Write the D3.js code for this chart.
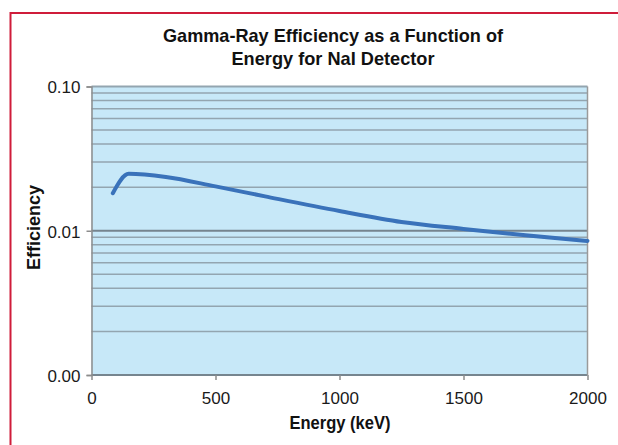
<!DOCTYPE html>
<html>
<head>
<meta charset="utf-8">
<script src="https://cdn.jsdelivr.net/npm/d3@7"></script>
<style>
  html, body { margin: 0; padding: 0; background: #ffffff; }
  svg { display: block; }
</style>
</head>
<body>
<div id="chart"></div>
<script>
(function () {
    "use strict";

    // Values
    const energy = [86, 150, 300, 500, 700, 1000, 1250, 1500, 1750, 2000];
    const efficiency = [0.0182, 0.0248, 0.0236, 0.0203, 0.0173, 0.0137, 0.0115, 0.0103, 0.0093, 0.0085];
    const xTicks = [0, 500, 1000, 1500, 2000];
    const yTicks = [0.001, 0.01, 0.1];
    const titleLines = ["Gamma-Ray Efficiency as a Function of", "Energy for NaI Detector"];

    const width = 618;
    const height = 445;
    const margin = { top: 86.5, right: 30.5, bottom: 70, left: 91.5 };
    const plotW = width - margin.left - margin.right;
    const plotH = height - margin.top - margin.bottom;

    const boldFont = "'Liberation Sans', Arial, sans-serif";
    const tickFont = "'Liberation Sans', Arial, sans-serif";

    const svg = d3.select("#chart")
        .append("svg")
        .attr("width", width)
        .attr("height", height);

    svg.append("rect")
        .attr("width", width)
        .attr("height", height)
        .attr("fill", "#ffffff");

    // red frame (only top and left edges are visible in the picture)
    svg.append("path")
        .attr("d", `M10.5,${height} V13 H${width}`)
        .attr("fill", "none")
        .attr("stroke", "#cf1c3a")
        .attr("stroke-width", 2);

    const x = d3.scaleLinear().domain([0, 2000]).range([0, plotW]);
    const y = d3.scaleLog().domain([0.001, 0.1]).range([plotH, 0]);

    const chart = svg.append("g")
        .attr("transform", `translate(${margin.left},${margin.top})`);

    chart.append("rect")
        .attr("width", plotW)
        .attr("height", plotH)
        .attr("fill", "#c7e8f8");

    // minor gridlines 2..9 of each decade
    const minor = [];
    [0.001, 0.01].forEach((base) => {
        for (let k = 2; k <= 9; k += 1) {
            minor.push(base * k);
        }
    });

    chart.selectAll(".minor")
        .data(minor)
        .join("line")
        .attr("class", "minor")
        .attr("x1", 0)
        .attr("x2", plotW)
        .attr("y1", (d) => y(d))
        .attr("y2", (d) => y(d))
        .attr("stroke", "#93a5b0")
        .attr("stroke-width", 1.5);

    chart.selectAll(".major")
        .data(yTicks)
        .join("line")
        .attr("class", "major")
        .attr("x1", 0)
        .attr("x2", plotW)
        .attr("y1", (d) => y(d))
        .attr("y2", (d) => y(d))
        .attr("stroke", (d) => (d === 0.1 ? "#93a5b0" : "#76858f"))
        .attr("stroke-width", 2);

    // right edge of plot
    chart.append("line")
        .attr("x1", plotW)
        .attr("x2", plotW)
        .attr("y1", 0)
        .attr("y2", plotH)
        .attr("stroke", "#9a9a9a")
        .attr("stroke-width", 1.5);

    const yAxis = d3.axisLeft(y)
        .tickValues(yTicks)
        .tickFormat(d3.format(".2f"))
        .tickSize(5)
        .tickPadding(6);

    chart.append("g")
        .call(yAxis)
        .call((g) => g.select(".domain").attr("stroke", "#8c8c8c").attr("stroke-width", 1.5))
        .call((g) => g.selectAll(".tick line").attr("stroke", "#8c8c8c").attr("stroke-width", 1.5))
        .call((g) => g.selectAll("text")
            .attr("fill", "#1a1a1a")
            .attr("dy", "0.38em")
            .style("font-family", tickFont)
            .style("font-size", "17px"));

    const xAxis = d3.axisBottom(x)
        .tickValues(xTicks)
        .tickFormat(d3.format("d"))
        .tickSize(5)
        .tickPadding(12);

    chart.append("g")
        .attr("transform", `translate(0,${plotH})`)
        .call(xAxis)
        .call((g) => g.select(".domain").remove())
        .call((g) => g.selectAll(".tick line").attr("stroke", "#8c8c8c").attr("stroke-width", 1.5))
        .call((g) => g.selectAll("text")
            .attr("fill", "#1a1a1a")
            .style("font-family", tickFont)
            .style("font-size", "17px"));

    const points = energy.map((e, i) => ({ e, v: efficiency[i] }));

    const line = d3.line()
        .x((d) => x(d.e))
        .y((d) => y(d.v))
        .curve(d3.curveMonotoneX);

    chart.append("path")
        .datum(points)
        .attr("d", line)
        .attr("fill", "none")
        .attr("stroke", "#3a72ba")
        .attr("stroke-width", 4)
        .attr("stroke-linecap", "round")
        .attr("stroke-linejoin", "round");

    // title, squeezed to the condensed look of the original
    const titleWidths = [340, 203];
    svg.selectAll(".title")
        .data(titleLines)
        .join("text")
        .attr("class", "title")
        .attr("x", 333)
        .attr("y", (d, i) => 42 + i * 22.5)
        .attr("text-anchor", "middle")
        .attr("textLength", (d, i) => titleWidths[i])
        .attr("lengthAdjust", "spacingAndGlyphs")
        .style("font-family", boldFont)
        .style("font-weight", "bold")
        .style("font-size", "19px")
        .attr("fill", "#111111")
        .text((d) => d);

    svg.append("text")
        .attr("x", 340)
        .attr("y", 429)
        .attr("text-anchor", "middle")
        .attr("textLength", 101)
        .attr("lengthAdjust", "spacingAndGlyphs")
        .style("font-family", boldFont)
        .style("font-weight", "bold")
        .style("font-size", "18px")
        .attr("fill", "#111111")
        .text("Energy (keV)");

    svg.append("text")
        .attr("transform", "translate(39.5,227.5) rotate(-90)")
        .attr("text-anchor", "middle")
        .attr("textLength", 85)
        .attr("lengthAdjust", "spacingAndGlyphs")
        .style("font-family", boldFont)
        .style("font-weight", "bold")
        .style("font-size", "18px")
        .attr("fill", "#111111")
        .text("Efficiency");
})();
</script>
</body>
</html>
